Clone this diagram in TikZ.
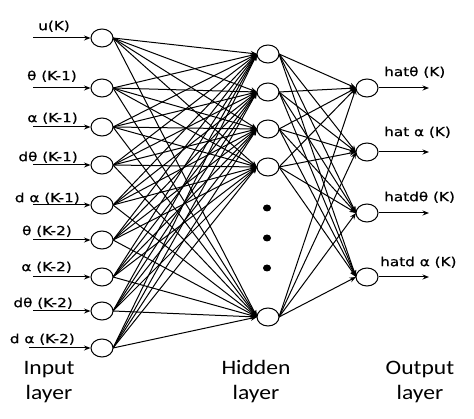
\documentclass[tikz,border=0pt]{standalone}
\usepackage{fontspec}
\usetikzlibrary{shapes.geometric,arrows.meta}
\newfontfamily\labfont[FakeStretch=1.22,FakeBold=0.6]{DejaVu Sans}
\newfontfamily\layfont[FakeStretch=1.15]{Carlito}
\begin{document}
\begin{tikzpicture}[x=1pt,y=-1pt,
 neuron/.style={draw,ellipse,minimum width=22pt,minimum height=18pt,inner sep=0pt,fill=white,line width=1pt},
 conn/.style={line width=1pt,-{Stealth[length=6.5pt,width=5pt]}},
 lab/.style={inner sep=0pt,font=\labfont\fontsize{12.5}{14}\selectfont},
 laylab/.style={align=center,font=\layfont\fontsize{20.5}{25}\selectfont,inner sep=0pt},
 bigdot/.style={fill=black,ellipse,minimum width=8pt,minimum height=7pt,inner sep=0pt}]
\useasboundingbox (0,0) rectangle (474,419);
% input nodes and incoming arrows
\foreach \y [count=\i] in {38,88,127,165,205,240,277,311,348}{
  \coordinate (s\i) at (33,\y);
}
\coordinate (s9) at (29,348);
% hidden / output coordinates
\foreach \y [count=\j] in {54,92,129,167,317}{
  \coordinate (hp\j) at (268,\y);
}
\foreach \y [count=\k] in {88,152,213,277}{
  \coordinate (op\k) at (367,\y);
  \coordinate (e\k) at (429,\y);
}
% edges input -> hidden
\foreach \y [count=\i] in {38,88,127,165,205,240,277,311,348}{
  \coordinate (ip\i) at (102,\y);
}
\foreach \i in {1,...,9}{
  \foreach \j in {1,...,5}{
    \draw[conn] ([xshift=11pt]ip\i) -- ([xshift=-11pt]hp\j);
  }
}
\foreach \j in {1,...,5}{
  \foreach \k in {1,...,4}{
    \draw[conn] ([xshift=11pt]hp\j) -- ([xshift=-11pt]op\k);
  }
}
% nodes
\foreach \i in {1,...,9}{
  \node[neuron] (in\i) at (ip\i) {};
  \draw[conn] (s\i) -- (in\i.west);
}
\foreach \j in {1,...,5}{
  \node[neuron] (h\j) at (hp\j) {};
}
\foreach \k in {1,...,4}{
  \node[neuron] (o\k) at (op\k) {};
  \draw[conn] (o\k.east) -- (e\k);
}
\node[bigdot] (d1) at (267,208) {};
\node[bigdot] (d2) at (267,238) {};
\node[bigdot] (d3) at (267,268) {};
% input labels
\node[lab,anchor=south east] (l1) at (70,32) {u(K)};
\node[lab,anchor=south east] (l2) at (77,82) {θ (K-1)};
\node[lab,anchor=south east] (l3) at (78,124) {α (K-1)};
\node[lab,anchor=south east] (l4) at (78,163) {dθ (K-1)};
\node[lab,anchor=south east] (l5) at (80,204) {d α (K-1)};
\node[lab,anchor=south east] (l6) at (72,237) {θ (K-2)};
\node[lab,anchor=south east] (l7) at (72,273) {α (K-2)};
\node[lab,anchor=south east] (l8) at (73,309) {dθ (K-2)};
\node[lab,anchor=south east] (l9) at (75,345) {d α (K-2)};
% output labels
\node[lab,anchor=south west] (r1) at (384,78) {hatθ (K)};
\node[lab,anchor=south west] (r2) at (384,138) {hat α (K)};
\node[lab,anchor=south west] (r3) at (384,203) {hatdθ (K)};
\node[lab,anchor=south west] (r4) at (380,268) {hatd α (K)};
% layer labels
\node[laylab] (tin) at (49,382) {Input\\layer};
\node[laylab] (thid) at (256,382) {Hidden\\layer};
\node[laylab] (tout) at (420,382) {Output\\layer};
\end{tikzpicture}
\end{document}
